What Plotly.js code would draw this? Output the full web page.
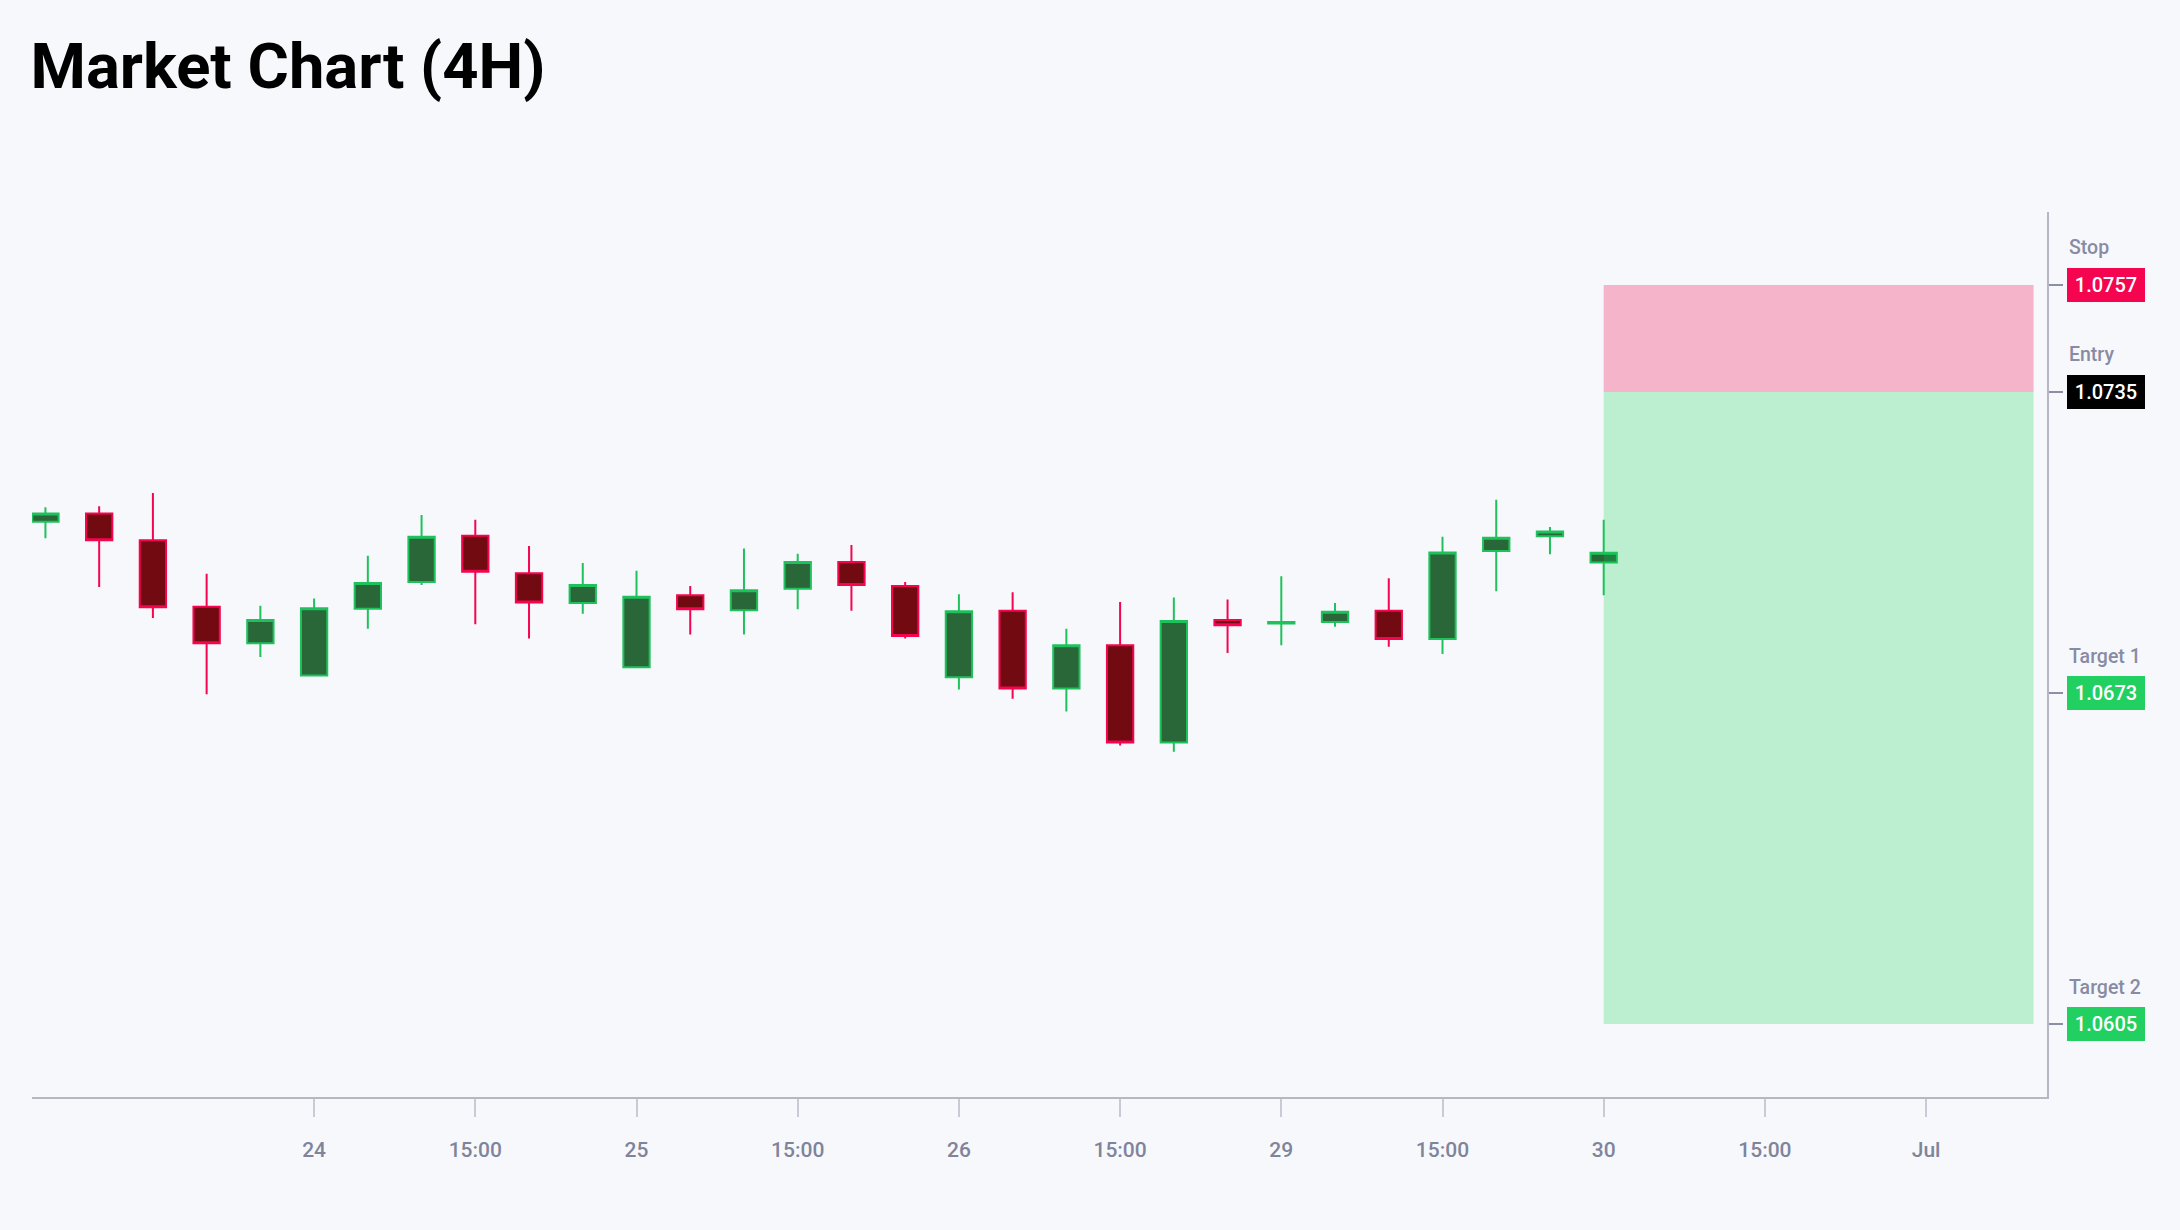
<!DOCTYPE html>
<html>
<head>
<meta charset="utf-8">
<script src="https://cdn.plot.ly/plotly-3.0.1.min.js"></script>
<style>
  html, body { margin: 0; padding: 0; background: #f7f8fc; }
  #chart { width: 2180px; height: 1230px; }
</style>
</head>
<body>
<div id="chart"></div>
<script>
// 4H candles (weekend Jun 27-28 skipped)
const times = [
  '2020-06-23 07:00','2020-06-23 11:00','2020-06-23 15:00','2020-06-23 19:00','2020-06-23 23:00',
  '2020-06-24 03:00','2020-06-24 07:00','2020-06-24 11:00','2020-06-24 15:00','2020-06-24 19:00','2020-06-24 23:00',
  '2020-06-25 03:00','2020-06-25 07:00','2020-06-25 11:00','2020-06-25 15:00','2020-06-25 19:00','2020-06-25 23:00',
  '2020-06-26 03:00','2020-06-26 07:00','2020-06-26 11:00','2020-06-26 15:00','2020-06-26 19:00','2020-06-26 23:00',
  '2020-06-29 03:00','2020-06-29 07:00','2020-06-29 11:00','2020-06-29 15:00','2020-06-29 19:00','2020-06-29 23:00',
  '2020-06-30 03:00'
];
const open  = [1.07083,1.07100,1.07045,1.06908,1.06833,1.06767,1.06904,1.06959,1.07054,1.06977,1.06916,1.06784,1.06932,1.06901,1.06945,1.07000,1.06951,1.06763,1.06900,1.06740,1.06829,1.06629,1.06881,1.06874,1.06877,1.06900,1.06842,1.07023,1.07053,1.06999];
const high  = [1.07113,1.07115,1.07142,1.06976,1.06910,1.06925,1.07013,1.07097,1.07087,1.07033,1.06998,1.06982,1.06951,1.07028,1.07017,1.07035,1.06959,1.06934,1.06938,1.06863,1.06918,1.06927,1.06923,1.06971,1.06916,1.06967,1.07052,1.07128,1.07072,1.07087];
const low   = [1.07049,1.06949,1.06885,1.06728,1.06805,1.06765,1.06863,1.06953,1.06872,1.06843,1.06894,1.06782,1.06851,1.06851,1.06903,1.06900,1.06843,1.06738,1.06719,1.06693,1.06623,1.06610,1.06813,1.06829,1.06867,1.06826,1.06811,1.06940,1.07016,1.06932];
const close = [1.07100,1.07045,1.06907,1.06833,1.06881,1.06905,1.06957,1.07052,1.06980,1.06917,1.06953,1.06929,1.06903,1.06942,1.07000,1.06953,1.06848,1.06899,1.06740,1.06829,1.06629,1.06879,1.06870,1.06877,1.06898,1.06842,1.07020,1.07050,1.07063,1.07019];

// x-axis ticks
const tickTimes = ['2020-06-24 03:00','2020-06-24 15:00','2020-06-25 03:00','2020-06-25 15:00','2020-06-26 03:00','2020-06-26 15:00','2020-06-29 03:00','2020-06-29 15:00','2020-06-30 03:00','2020-06-30 15:00','2020-07-01 03:00'];
const tickLabels = ['24','15:00','25','15:00','26','15:00','29','15:00','30','15:00','Jul'];

// trade levels
const levelNames  = ['Stop','Entry','Target 1','Target 2'];
const levelValues = [1.0757, 1.0735, 1.0673, 1.0605];
const levelColors = ['#f5054f', '#000000', '#21d061', '#21d061'];

// trade zone time span
const zoneStart = '2020-06-30 03:00';
const zoneEnd   = '2020-07-01 11:00';
const xRange = ['2020-06-23 06:00', '2020-07-01 12:00'];
const yRange = [1.0590, 1.0772];

const trace = {
  type: 'candlestick',
  x: times, open: open, high: high, low: low, close: close,
  increasing: { line: { color: '#1fc15c', width: 2 }, fillcolor: '#296638' },
  decreasing: { line: { color: '#f5054f', width: 2 }, fillcolor: '#720a12' },
  hoverinfo: 'skip',
  showlegend: false
};

const stopV = levelValues[0], entryV = levelValues[1], t2V = levelValues[3];
const shapes = [
  { type: 'rect', xref: 'x', yref: 'y', x0: zoneStart, x1: zoneEnd, y0: entryV, y1: stopV,
    fillcolor: 'rgba(245,10,80,0.285)', line: { width: 0 }, layer: 'above' },
  { type: 'rect', xref: 'x', yref: 'y', x0: zoneStart, x1: zoneEnd, y0: t2V, y1: entryV,
    fillcolor: 'rgba(12,209,77,0.25)', line: { width: 0 }, layer: 'above' }
];

const annotations = [];
levelNames.forEach((name, i) => {
  annotations.push({
    xref: 'paper', yref: 'y', x: 1, y: levelValues[i], xanchor: 'left', yanchor: 'middle',
    xshift: 20, yshift: 0, showarrow: false,
    text: levelValues[i].toFixed(4),
    font: { family: 'Roboto', size: 20, color: '#ffffff', weight: 500 },
    bgcolor: levelColors[i], borderpad: 4, borderwidth: 0, width: 70, height: 26, align: 'center'
  });
  annotations.push({
    xref: 'paper', yref: 'y', x: 1, y: levelValues[i], xanchor: 'left', yanchor: 'middle',
    xshift: 20, yshift: 37, showarrow: false,
    text: name,
    font: { family: 'Roboto', size: 19.5, color: '#878ba4', weight: 500 },
    align: 'left'
  });
});

const layout = {
  width: 2180, height: 1230,
  paper_bgcolor: '#f7f8fc', plot_bgcolor: '#f7f8fc',
  margin: { l: 32, r: 133, t: 212, b: 133, pad: 0 },
  showlegend: false,
  title: {
    text: 'Market Chart (4H)',
    font: { family: 'Roboto', size: 63.3, color: '#000000', weight: 700 },
    xref: 'container', yref: 'container', x: 30.5/2180, xanchor: 'left', y: 1 - 66/1230, yanchor: 'middle'
  },
  xaxis: {
    type: 'date', range: xRange,
    rangebreaks: [{ bounds: ['sat', 'mon'] }],
    rangeslider: { visible: false },
    showgrid: false, zeroline: false,
    showline: true, linecolor: '#b5b8c3', linewidth: 2,
    ticks: 'outside', ticklen: 18, tickwidth: 2, tickcolor: '#c8cbd4',
    tickmode: 'array', tickvals: tickTimes, ticktext: tickLabels,
    ticklabelstandoff: 15,
    tickfont: { family: 'Roboto', size: 21, color: '#7f849b', weight: 500 },
    fixedrange: true
  },
  yaxis: {
    side: 'right', range: yRange,
    showgrid: false, zeroline: false,
    showline: true, linecolor: '#b5b8c3', linewidth: 2,
    ticks: 'outside', ticklen: 14, tickwidth: 2, tickcolor: '#8a8ea6',
    tickmode: 'array', tickvals: levelValues, showticklabels: false,
    fixedrange: true
  },
  shapes: shapes,
  annotations: annotations
};

Plotly.newPlot('chart', [trace], layout, { displayModeBar: false, staticPlot: true });
</script>
</body>
</html>
